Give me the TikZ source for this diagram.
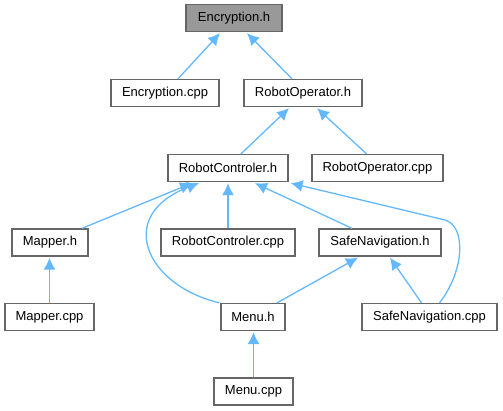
\documentclass[tikz,border=0pt]{standalone}
\usepackage{fontspec}
\setmainfont{Liberation Sans}
\usetikzlibrary{arrows.meta}
\usetikzlibrary{calc}
\definecolor{edgeblue}{HTML}{63B8FF}
\definecolor{boxgray}{HTML}{666666}
\definecolor{headgray}{HTML}{999999}

\begin{document}
\begin{tikzpicture}
	[x=1pt,y=-1pt,
	 file/.style={draw=boxgray, line width=1.3pt, fill=white, minimum height=27pt, inner sep=0pt, font=\fontsize{13}{15}\selectfont},
	 link/.style={draw=edgeblue, line width=1.3pt, -{Latex[length=12pt,width=12pt]}}];
	\useasboundingbox (0,0) rectangle (503,411);

	%Files
	\node[file, fill=headgray, minimum width=96pt] (ench) at (234,18) {Encryption.h};
	\node[file, minimum width=108pt] (enccpp) at (165,93) {Encryption.cpp};
	\node[file, minimum width=118pt] (roph) at (303,93) {RobotOperator.h};
	\node[file, minimum width=120pt] (rch) at (228,168) {RobotControler.h};
	\node[file, minimum width=131pt] (ropcpp) at (377.5,168) {RobotOperator.cpp};
	\node[file, minimum width=76pt] (maph) at (50,242.5) {Mapper.h};
	\node[file, minimum width=134pt] (rccpp) at (228,242.5) {RobotControler.cpp};
	\node[file, minimum width=122pt] (safeh) at (380,242.5) {SafeNavigation.h};
	\node[file, minimum width=89pt] (mapcpp) at (49.5,317) {Mapper.cpp};
	\node[file, minimum width=64pt] (menuh) at (253,317) {Menu.h};
	\node[file, minimum width=135pt] (safecpp) at (429.5,317) {SafeNavigation.cpp};
	\node[file, minimum width=79pt] (menucpp) at (253.5,391.5) {Menu.cpp};

	%Includes
	\draw[link] ($(enccpp.north)+(13,0)$) -- ($(ench.south)+(-14,1)$);
	\draw[link] ($(roph.north)+(-11,0)$) -- ($(ench.south)+(13,1)$);
	\draw[link] ($(rch.north)+(13,0)$) -- ($(roph.south)+(-14,1)$);
	\draw[link] ($(ropcpp.north)+(-11,0)$) -- ($(roph.south)+(14,1)$);
	\draw[link] ($(maph.north)+(32,0)$) -- ($(rch.south)+(-36,1)$);
	\draw[link] ($(menuh.north west)+(-1,0)$) .. controls (145,285) and (115,215) .. ($(rch.south)+(-29,1)$);
	\draw[link] (rccpp.north) -- ($(rch.south)+(0,1)$);
	\draw[link] ($(safeh.north)+(-28,0)$) -- ($(rch.south)+(27,1)$);
	\draw[link] ($(safecpp.north)+(10,0)$) .. controls (465,270) and (466,226) .. (445,220) -- ($(rch.south east)+(2,1)$);
	\draw[link] (mapcpp.north) -- ($(maph.south)+(-0.5,1)$);
	\draw[link] ($(menuh.north)+(24,0)$) -- ($(safeh.south)+(-22,1)$);
	\draw[link] ($(safecpp.north)+(-8,0)$) -- ($(safeh.south)+(10,1)$);
	\draw[link] (menucpp.north) -- ($(menuh.south)+(0.5,1)$);
\end{tikzpicture}
\end{document}
